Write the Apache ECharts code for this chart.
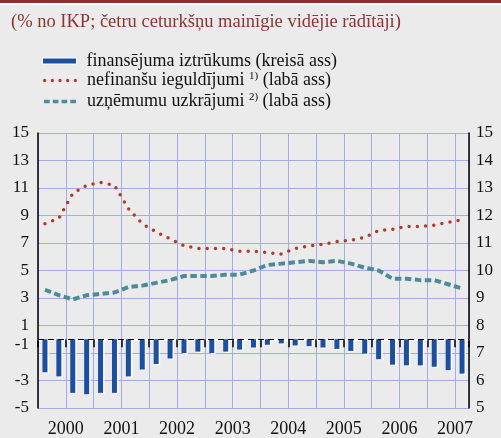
<!DOCTYPE html>
<html>
<head>
<meta charset="utf-8">
<script src="https://cdn.jsdelivr.net/npm/echarts@6/dist/echarts.min.js"></script>
<style>
  html, body { margin: 0; padding: 0; background: #ebebeb; }
  #chart { width: 501px; height: 438px; }
</style>
</head>
<body>
<div id="chart"></div>
<script>
// ceturkšņi 2000Q1 - 2007Q3
var quarters = [
  '2000Q1', '2000Q2', '2000Q3', '2000Q4',
  '2001Q1', '2001Q2', '2001Q3', '2001Q4',
  '2002Q1', '2002Q2', '2002Q3', '2002Q4',
  '2003Q1', '2003Q2', '2003Q3', '2003Q4',
  '2004Q1', '2004Q2', '2004Q3', '2004Q4',
  '2005Q1', '2005Q2', '2005Q3', '2005Q4',
  '2006Q1', '2006Q2', '2006Q3', '2006Q4',
  '2007Q1', '2007Q2', '2007Q3'
]

// finansējuma iztrūkums (kreisā ass)
var financingGap = [
  -2.4, -2.7, -3.9, -4.0, -3.9, -3.9, -2.7, -2.2,
  -1.8, -1.4, -1.0, -0.9, -1.0, -0.9, -0.75, -0.6,
  -0.4, -0.3, -0.45, -0.5, -0.6, -0.7, -0.85, -1.05,
  -1.45, -1.85, -1.9, -1.9, -2.0, -2.25, -2.5
]

// nefinanšu ieguldījumi (labā ass)
var investment = [
  11.7, 11.9, 12.8, 13.1, 13.2, 13.1, 12.25, 11.7,
  11.4, 11.15, 10.9, 10.8, 10.8, 10.8, 10.7, 10.7,
  10.65, 10.6, 10.8, 10.9, 10.95, 11.05, 11.1, 11.2,
  11.45, 11.5, 11.6, 11.6, 11.65, 11.75, 11.85
]

// uzņēmumu uzkrājumi (labā ass)
var savings = [
  9.3, 9.1, 8.95, 9.1, 9.15, 9.2, 9.4, 9.45,
  9.55, 9.65, 9.8, 9.8, 9.8, 9.85, 9.85, 10.0,
  10.2, 10.25, 10.3, 10.35, 10.3, 10.35, 10.25, 10.1,
  10.0, 9.7, 9.7, 9.65, 9.65, 9.5, 9.35
]

// gadu nosaukumi uz x ass (pa vidu katram gadam)
var yearLabels = ['2000', '2001', '2002', '2003', '2004', '2005', '2006', '2007']
var yearPositions = [2, 6, 10, 14, 18, 22, 26, 30]

var serif = 'Liberation Serif'
var gridColor = '#a3ace6'

// leģendas ikonas: punktiņi un svītriņas
var dotIcon = 'path://' +
  'M0,1.75a1.75,1.75 0 1,0 3.5,0a1.75,1.75 0 1,0 -3.5,0Z' +
  'M8.25,1.75a1.75,1.75 0 1,0 3.5,0a1.75,1.75 0 1,0 -3.5,0Z' +
  'M16.5,1.75a1.75,1.75 0 1,0 3.5,0a1.75,1.75 0 1,0 -3.5,0Z' +
  'M24.75,1.75a1.75,1.75 0 1,0 3.5,0a1.75,1.75 0 1,0 -3.5,0Z' +
  'M33,1.75a1.75,1.75 0 1,0 3.5,0a1.75,1.75 0 1,0 -3.5,0Z'
var dashIcon = 'path://M0,0H6.5V4H0Z M10,0H16.5V4H10Z M20,0H26.5V4H20Z M30,0H36.5V4H30Z'

var legendText = {
  fontFamily: serif,
  fontSize: 18,
  color: '#111',
  padding: [0, 0, 0, 5],
  rich: {
    sup: { fontFamily: serif, fontSize: 11, color: '#111', padding: [0, 0, 9, 0] }
  }
}

var myChart = echarts.init(document.getElementById('chart'))

var option = {
  backgroundColor: '#ebebeb',
  animation: false,
  textStyle: { fontFamily: serif },
  graphic: [
    { type: 'rect', shape: { x: 0, y: 0, width: 501, height: 3 }, style: { fill: '#8b2f2f' } },
    { type: 'rect', shape: { x: 0, y: 3, width: 501, height: 2 }, style: { fill: '#ffffff' } }
  ],
  title: {
    text: '(% no IKP; četru ceturkšņu mainīgie vidējie rādītāji)',
    left: 6,
    top: 8,
    textStyle: {
      fontFamily: serif,
      fontWeight: 'normal',
      fontSize: 18.5,
      color: '#8b3535'
    }
  },
  // divas leģendas: stabiņam biezāka ikona, līnijām plānāka
  legend: [
    {
      orient: 'vertical',
      left: 37,
      top: 47,
      itemWidth: 34,
      itemHeight: 6,
      selectedMode: false,
      data: [{ name: 'finansējuma iztrūkums', icon: 'rect' }],
      formatter: function (name) {
        return name + ' (kreisā ass)'
      },
      itemStyle: { borderColor: '#ffffff', borderWidth: 1 },
      textStyle: legendText
    },
    {
      orient: 'vertical',
      left: 38,
      top: 65.5,
      itemWidth: 34,
      itemHeight: 3.5,
      itemGap: 2,
      selectedMode: false,
      data: [
        { name: 'nefinanšu ieguldījumi', icon: dotIcon },
        { name: 'uzņēmumu uzkrājumi', icon: dashIcon }
      ],
      formatter: function (name) {
        if (name === 'nefinanšu ieguldījumi') return name + ' {sup|1)} (labā ass)'
        return name + ' {sup|2)} (labā ass)'
      },
      textStyle: legendText
    }
  ],
  grid: {
    left: 38,
    right: 32,
    top: 133,
    bottom: 30
  },
  xAxis: [
    {
      type: 'category',
      data: quarters,
      boundaryGap: true,
      axisLine: { show: true, lineStyle: { color: '#ffffff', width: 2 } },
      axisTick: { show: true, interval: 1, length: 8, lineStyle: { color: '#000', width: 1.5 } },
      axisLabel: { show: false },
      splitLine: { show: true, interval: 1, lineStyle: { color: gridColor, width: 1 } }
    },
    {
      type: 'value',
      min: 0,
      max: 31,
      position: 'bottom',
      axisLine: { show: false },
      axisTick: { show: false },
      splitLine: { show: false },
      axisLabel: {
        customValues: yearPositions,
        margin: 12,
        fontFamily: serif,
        fontSize: 18,
        color: '#111',
        formatter: function (v) {
          return yearLabels[yearPositions.indexOf(v)]
        }
      }
    }
  ],
  yAxis: [
    {
      type: 'value',
      min: -5,
      max: 15,
      interval: 2,
      axisLine: { show: true, lineStyle: { color: '#000', width: 1.5 } },
      axisTick: { show: false },
      axisLabel: {
        margin: 9,
        fontFamily: serif,
        fontSize: 17,
        color: '#111',
        // -1 oriģinālā ir pacelts virs nulles līnijas
        formatter: function (v) {
          return v === -1 ? '{up|-1}' : String(v)
        },
        rich: {
          up: { fontFamily: serif, fontSize: 17, color: '#111', padding: [0, 0, 16, 0] }
        }
      },
      splitLine: { show: true, lineStyle: { color: gridColor, width: 1 } }
    },
    {
      type: 'value',
      min: 5,
      max: 15,
      interval: 1,
      position: 'right',
      axisLine: { show: true, lineStyle: { color: '#000', width: 1.5 } },
      axisTick: { show: false },
      axisLabel: { margin: 7, fontFamily: serif, fontSize: 17, color: '#111' },
      splitLine: { show: false }
    }
  ],
  series: [
    {
      name: 'finansējuma iztrūkums',
      type: 'bar',
      xAxisIndex: 0,
      yAxisIndex: 0,
      barWidth: 5,
      data: financingGap,
      itemStyle: {
        color: '#1c4f9f',
        shadowColor: 'rgba(255,255,255,0.9)',
        shadowOffsetX: 1.5,
        shadowOffsetY: 1
      },
      markLine: {
        silent: true,
        symbol: 'none',
        label: { show: false },
        lineStyle: { color: '#000', type: [6, 4], width: 1 },
        data: [{ yAxis: 0 }]
      }
    },
    {
      name: 'nefinanšu ieguldījumi',
      type: 'line',
      xAxisIndex: 0,
      yAxisIndex: 1,
      data: investment,
      showSymbol: false,
      symbol: 'none',
      color: '#b13a2f',
      lineStyle: { color: '#b13a2f', width: 3.5, type: [0, 8.25], cap: 'round' }
    },
    {
      name: 'uzņēmumu uzkrājumi',
      type: 'line',
      xAxisIndex: 0,
      yAxisIndex: 1,
      data: savings,
      showSymbol: false,
      symbol: 'none',
      color: '#4d8b9b',
      lineStyle: { color: '#4d8b9b', width: 4, type: [6.5, 3.5] }
    }
  ]
}

myChart.setOption(option)
</script>
</body>
</html>
